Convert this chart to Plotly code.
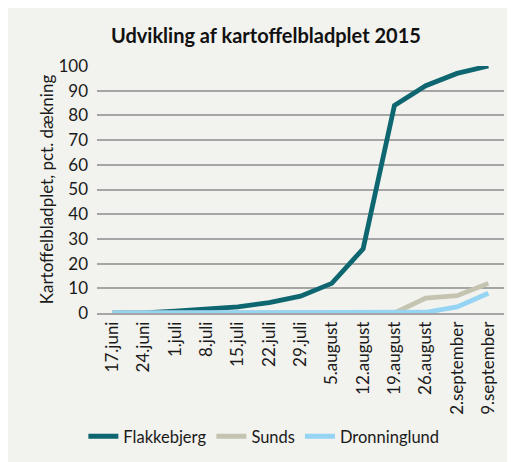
import plotly.graph_objects as go

dates = [
    "17.juni", "24.juni", "1.juli", "8.juli", "15.juli", "22.juli", "29.juli",
    "5.august", "12.august", "19.august", "26.august", "2.september", "9.september",
]
flakkebjerg = [0, 0, 0.7, 1.5, 2.5, 4.2, 6.8, 12, 26, 84, 92, 97, 100]
sunds = [0, 0, 0, 0, 0, 0, 0, 0, 0, 0, 6, 7, 12]
dronninglund = [0, 0, 0, 0, 0, 0, 0, 0, 0, 0, 0.3, 2.5, 8]

series = [
    ("Flakkebjerg", flakkebjerg, "#0d6670"),
    ("Sunds", sunds, "#c5c4b0"),
    ("Dronninglund", dronninglund, "#95d4f3"),
]

FONT = "Lato"
BG = "#f2f2ee"

fig = go.Figure()
for name, vals, color in series:
    fig.add_trace(go.Scatter(
        x=dates, y=vals, name=name, mode="lines",
        line=dict(color=color, width=4.8),
    ))

fig.update_layout(
    width=515, height=462,
    margin=dict(l=89, r=19, t=58, b=157, autoexpand=False),
    paper_bgcolor=BG,
    plot_bgcolor=BG,
    font=dict(family=FONT, size=16, color="#1a1a1a"),
    title=dict(
        text="<b>Udvikling af kartoffelbladplet 2015</b>",
        x=0.415, xref="paper", xanchor="center", y=0.939, yanchor="middle",
        font=dict(size=20, color="#111111"),
    ),
    showlegend=True,
    legend=dict(
        orientation="h", x=0.41, xanchor="center", y=-0.5, yanchor="middle",
        font=dict(size=16.5), itemwidth=30, bgcolor="rgba(0,0,0,0)",
    ),
)
fig.update_xaxes(
    type="category", tickangle=-90, showgrid=False, automargin=False,
    showline=True, linecolor="#a5a5a5", linewidth=1.5,
    ticks="", tickfont=dict(size=17), range=[-0.5, 12.5],
)
fig.update_yaxes(
    range=[0, 100], dtick=10, showgrid=True, gridcolor="#a5a5a5", gridwidth=1.5,
    zeroline=False, ticks="", tickfont=dict(size=17), automargin=False,
    ticklabelstandoff=8,
    title=dict(text="Kartoffelbladplet, pct. dækning", font=dict(size=17), standoff=0),
)

fig.write_html("out.html")
